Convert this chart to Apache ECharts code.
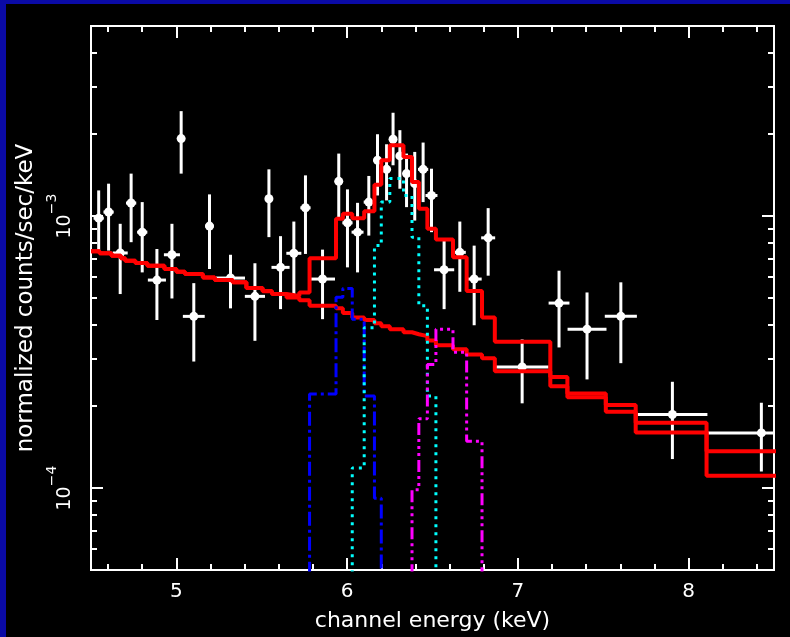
<!DOCTYPE html>
<html>
<head>
<meta charset="utf-8">
<script src="https://cdn.jsdelivr.net/npm/echarts@6/dist/echarts.min.js"></script>
<style>
html, body { margin: 0; padding: 0; background: #000; }
#chart { width: 790px; height: 637px; }
</style>
</head>
<body>
<div id="chart"></div>
<script>
// model bin edges (keV)
var modelEdges = [4.50, 4.55, 4.62, 4.675, 4.70, 4.76, 4.83, 4.93, 5.00, 5.05, 5.155, 5.225, 5.33, 5.41,
  5.505, 5.56, 5.645, 5.72, 5.78, 5.935, 5.975, 6.03, 6.10, 6.16, 6.20, 6.25, 6.33, 6.38, 6.42, 6.47,
  6.52, 6.62, 6.70, 6.79, 6.865, 7.19, 7.29, 7.515, 7.69, 8.105, 8.60];
// total model (red, upper)
var totalModel = [7.43e-4, 7.30e-4, 7.15e-4, 7.00e-4, 6.86e-4, 6.73e-4, 6.57e-4, 6.39e-4, 6.25e-4, 6.12e-4,
  5.95e-4, 5.82e-4, 5.71e-4, 5.44e-4, 5.30e-4, 5.17e-4, 5.09e-4, 5.24e-4, 7.00e-4, 9.77e-4,
  1.02e-3, 9.83e-4, 1.043e-3, 1.305e-3, 1.604e-3, 1.822e-3, 1.651e-3, 1.335e-3, 1.064e-3, 8.98e-4,
  8.20e-4, 7.06e-4, 5.31e-4, 4.24e-4, 3.45e-4, 2.56e-4, 2.23e-4, 2.02e-4, 1.74e-4, 1.365e-4];
// continuum (red, lower)
var continuum = [7.43e-4, 7.30e-4, 7.15e-4, 7.00e-4, 6.86e-4, 6.73e-4, 6.57e-4, 6.39e-4, 6.25e-4, 6.12e-4,
  5.95e-4, 5.82e-4, 5.71e-4, 5.44e-4, 5.29e-4, 5.17e-4, 5.02e-4, 4.91e-4, 4.68e-4, 4.58e-4,
  4.40e-4, 4.24e-4, 4.15e-4, 4.04e-4, 3.94e-4, 3.84e-4, 3.74e-4, 3.68e-4, 3.62e-4, 3.49e-4,
  3.35e-4, 3.24e-4, 3.10e-4, 3.00e-4, 2.69e-4, 2.37e-4, 2.16e-4, 1.91e-4, 1.60e-4, 1.11e-4];
// line components (null = below the plot)
var lineBlue = [null, null, null, null, null, null, null, null, null, null,
  null, null, null, null, null, null, null, null, 2.22e-4, 5.03e-4,
  5.42e-4, 4.18e-4, 2.18e-4, 9.18e-5, null, null, null, null, null, null,
  null, null, null, null, null, null, null, null, null, null];
var lineCyan = [null, null, null, null, null, null, null, null, null, null,
  null, null, null, null, null, null, null, null, null, null,
  null, 1.186e-4, 3.89e-4, 7.79e-4, 1.128e-3, 1.374e-3, 1.19e-3, 8.37e-4, 4.68e-4, 2.18e-4,
  null, null, null, null, null, null, null, null, null, null];
var lineMagenta = [null, null, null, null, null, null, null, null, null, null,
  null, null, null, null, null, null, null, null, null, null,
  null, null, null, null, null, null, null, 9.86e-5, 1.80e-4, 2.85e-4,
  3.84e-4, 3.16e-4, 1.486e-4, null, null, null, null, null, null, null];

// data points
var dataEnergy = [4.545, 4.603, 4.671, 4.735, 4.800, 4.886, 4.974, 5.028, 5.102, 5.194,
  5.317, 5.460, 5.542, 5.610, 5.688, 5.756, 5.856, 5.951, 6.002, 6.061,
  6.127, 6.178, 6.231, 6.269, 6.309, 6.348, 6.396, 6.445, 6.494, 6.568,
  6.660, 6.744, 6.826, 7.025, 7.241, 7.405, 7.603, 7.905, 8.426];
var dataHalfWidth = [0.03, 0.03, 0.044, 0.03, 0.03, 0.053, 0.047, 0.012, 0.064, 0.025,
  0.085, 0.059, 0.018, 0.053, 0.044, 0.03, 0.073, 0.023, 0.03, 0.035,
  0.03, 0.023, 0.023, 0.018, 0.018, 0.018, 0.023, 0.03, 0.035, 0.059,
  0.035, 0.044, 0.041, 0.155, 0.061, 0.114, 0.094, 0.205, 0.317];
var dataRate = [9.83e-4, 1.035e-3, 7.32e-4, 1.117e-3, 8.73e-4, 5.82e-4, 7.21e-4, 1.928e-3, 4.28e-4, 9.19e-4,
  5.92e-4, 5.07e-4, 1.158e-3, 6.48e-4, 7.30e-4, 1.073e-3, 5.87e-4, 1.342e-3, 9.45e-4, 8.73e-4,
  1.126e-3, 1.604e-3, 1.486e-3, 1.917e-3, 1.665e-3, 1.433e-3, 1.316e-3, 1.486e-3, 1.191e-3, 6.35e-4,
  7.36e-4, 5.87e-4, 8.32e-4, 2.79e-4, 4.79e-4, 3.84e-4, 4.28e-4, 1.865e-4, 1.596e-4];
var dataErrLow = [7.47e-4, 7.47e-4, 5.17e-4, 8.02e-4, 6.21e-4, 4.15e-4, 4.98e-4, 1.433e-3, 2.92e-4, 6.39e-4,
  4.58e-4, 3.48e-4, 8.37e-4, 4.55e-4, 5.09e-4, 7.26e-4, 4.18e-4, 9.92e-4, 6.48e-4, 6.21e-4,
  8.48e-4, 1.191e-3, 1.142e-3, 1.538e-3, 1.261e-3, 1.079e-3, 9.63e-4, 1.126e-3, 8.73e-4, 4.55e-4,
  5.27e-4, 3.97e-4, 6.04e-4, 2.05e-4, 3.29e-4, 2.51e-4, 2.88e-4, 1.279e-4, 1.151e-4];
var dataErrHigh = [1.243e-3, 1.316e-3, 9.37e-4, 1.433e-3, 1.126e-3, 7.57e-4, 9.37e-4, 2.432e-3, 5.67e-4, 1.202e-3,
  7.21e-4, 6.71e-4, 1.486e-3, 8.44e-4, 9.55e-4, 1.412e-3, 7.53e-4, 1.698e-3, 1.254e-3, 1.119e-3,
  1.405e-3, 2.0e-3, 1.837e-3, 2.399e-3, 2.07e-3, 1.698e-3, 1.722e-3, 1.864e-3, 1.494e-3, 8.13e-4,
  9.55e-4, 7.79e-4, 1.070e-3, 3.52e-4, 6.30e-4, 5.24e-4, 5.71e-4, 2.46e-4, 2.06e-4];

// axis ticks
var xMajorTicks = [5, 6, 7, 8];
var xMinorTicks = [4.6, 4.8, 5.2, 5.4, 5.6, 5.8, 6.2, 6.4, 6.6, 6.8, 7.2, 7.4, 7.6, 7.8, 8.2, 8.4];
var yMajorTicks = [1e-4, 1e-3];
var yMinorTicks = [6e-5, 7e-5, 8e-5, 9e-5, 2e-4, 3e-4, 4e-4, 5e-4, 6e-4, 7e-4, 8e-4, 9e-4, 2e-3, 3e-3, 4e-3];
var yRange = [5e-5, 5e-3];

var FONT = 'DejaVu Sans';
var lg = function (v) { return Math.log10(v); };

function steps(vals) {
  var pts = [];
  for (var i = 0; i < vals.length; i++) {
    var v = vals[i] == null ? -6 : lg(vals[i]);
    pts.push([modelEdges[i], v]);
    pts.push([modelEdges[i + 1], v]);
  }
  return pts;
}

var points = [];
for (var i = 0; i < dataEnergy.length; i++) {
  points.push([dataEnergy[i], lg(dataRate[i]), dataHalfWidth[i], lg(dataErrLow[i]), lg(dataErrHigh[i])]);
}

function xAxis(pos, ticks, len, labels) {
  return {
    type: 'value', position: pos, min: 4.5, max: 8.5,
    axisLine: { show: true, onZero: false, lineStyle: { color: '#fff', width: 2 } },
    axisTick: { show: true, inside: true, length: len, customValues: ticks, lineStyle: { color: '#fff', width: 2 } },
    axisLabel: labels ? { show: true, customValues: ticks, color: '#fff', fontFamily: FONT, fontSize: 20, margin: 12 } : { show: false },
    splitLine: { show: false }
  };
}
function yAxis(pos, ticks, len, labels) {
  return {
    type: 'value', position: pos, min: lg(yRange[0]), max: lg(yRange[1]),
    axisLine: { show: true, onZero: false, lineStyle: { color: '#fff', width: 2 } },
    axisTick: { show: true, inside: true, length: len, customValues: ticks.map(lg), lineStyle: { color: '#fff', width: 2 } },
    axisLabel: labels ? {
      show: true, customValues: ticks.map(lg), rotate: 90, margin: 16,
      formatter: function (v) { return '{b|10}{s|\u2212' + (-Math.round(v)) + '}'; },
      rich: {
        b: { color: '#fff', fontFamily: FONT, fontSize: 19, lineHeight: 30, verticalAlign: 'bottom' },
        s: { color: '#fff', fontFamily: FONT, fontSize: 14, lineHeight: 16, verticalAlign: 'top' }
      }
    } : { show: false },
    splitLine: { show: false }
  };
}

var xs = [xAxis('bottom', xMajorTicks, 12, true), xAxis('bottom', xMinorTicks, 6, false),
  xAxis('top', xMajorTicks, 12, false), xAxis('top', xMinorTicks, 6, false)];
xs[0].name = 'channel energy (keV)';
xs[0].nameLocation = 'middle';
xs[0].nameGap = 40;
xs[0].nameTextStyle = { color: '#fff', fontFamily: FONT, fontSize: 22 };
var ys = [yAxis('left', yMajorTicks, 12, true), yAxis('left', yMinorTicks, 6, false),
  yAxis('right', yMajorTicks, 12, false), yAxis('right', yMinorTicks, 6, false)];
ys[0].name = 'normalized counts/sec/keV';
ys[0].nameLocation = 'middle';
ys[0].nameRotate = 90;
ys[0].nameGap = 53;
ys[0].nameTextStyle = { color: '#fff', fontFamily: FONT, fontSize: 23 };

function stepLine(name, vals, color, type, width) {
  return {
    name: name, type: 'line', data: steps(vals), showSymbol: false, symbol: 'none', clip: true,
    animation: false, lineStyle: { color: color, width: width, type: type }
  };
}

var option = {
  backgroundColor: '#000',
  animation: false,
  grid: { left: 91, right: 16, top: 26, bottom: 66 },
  graphic: [
    { type: 'rect', left: 0, top: 0, shape: { width: 6, height: 637 }, style: { fill: '#0a0aa6' } },
    { type: 'rect', left: 0, top: 0, shape: { width: 790, height: 4 }, style: { fill: '#0a0aa6' } }
  ],
  xAxis: xs,
  yAxis: ys,
  series: [
    {
      type: 'custom', name: 'data', data: points, clip: true,
      encode: { x: 0, y: 1 },
      renderItem: function (params, api) {
        var cs = params.coordSys;
        var x = api.value(0), y = api.value(1), hw = api.value(2);
        var a = api.coord([x - hw, y]), b = api.coord([x + hw, y]);
        var lo = api.coord([x, api.value(3)]), hi = api.coord([x, api.value(4)]);
        var c = api.coord([x, y]);
        var xl = Math.max(a[0], cs.x), xr = Math.min(b[0], cs.x + cs.width);
        var st = { stroke: '#fff', lineWidth: 3 };
        return {
          type: 'group', children: [
            { type: 'line', shape: { x1: xl, y1: a[1], x2: xr, y2: b[1] }, style: st },
            { type: 'line', shape: { x1: lo[0], y1: lo[1], x2: hi[0], y2: hi[1] }, style: st },
            { type: 'circle', shape: { cx: c[0], cy: c[1], r: 4.5 }, style: { fill: '#fff' } }
          ]
        };
      }
    },
    stepLine('continuum', continuum, '#ff0000', 'solid', 4),
    stepLine('model', totalModel, '#ff0000', 'solid', 4),
    stepLine('line1', lineBlue, '#0000ff', [14, 4, 3, 4], 3),
    stepLine('line2', lineCyan, '#00ffff', [3, 5], 3),
    stepLine('line3', lineMagenta, '#ff00ff', [12, 4, 3, 4, 3, 4, 3, 4], 3)
  ]
};

var myChart = echarts.init(document.getElementById('chart'));
myChart.setOption(option);
</script>
</body>
</html>
